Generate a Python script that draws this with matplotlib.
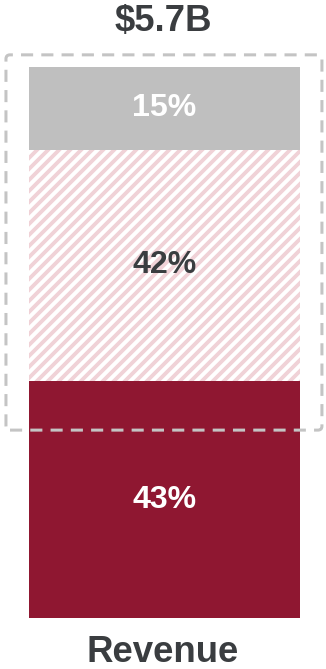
import numpy as np
import matplotlib.pyplot as plt
from matplotlib import rcParams
from matplotlib.patches import FancyBboxPatch

rcParams['font.family'] = 'Liberation Sans'
rcParams['hatch.linewidth'] = 2.1
rcParams['hatch.color'] = '#f0d2d7'

# revenue split, bottom to top
categories = ["Revenue"]
total_label = "$5.7B"
seg_values = [43, 42, 15]
seg_labels = ["43%", "42%", "15%"]
seg_colors = ['#8f1731', 'white', '#bfbfbf']
seg_hatch = [None, '////', None]
label_colors = ['white', '#3a3d40', 'white']

dpi = 132
fig = plt.figure(figsize=(326 / dpi, 669 / dpi), dpi=dpi)
ax = fig.add_axes([0, 0.0762, 1, 0.8237])

bottom = 0
for val, lab, col, h, tc in zip(seg_values, seg_labels, seg_colors, seg_hatch, label_colors):
    ax.bar(0, val, width=1.0, bottom=bottom, color=col, hatch=h,
           edgecolor='#f0d2d7' if h else col, linewidth=0)
    ax.text(0, bottom + val / 2, lab, ha='center', va='center',
            fontsize=17.5, fontweight='bold', color=tc)
    bottom += val

ax.set_xlim(-0.607, 0.596)
ax.set_ylim(0, 100)
ax.set_axis_off()

# dashed frame around the upper segments
box = FancyBboxPatch((-0.585, 34.1), 1.166, 68.1,
                     boxstyle='round,pad=0,rounding_size=0.015',
                     mutation_aspect=49.2, fill=False,
                     edgecolor='#c4c4c4', linewidth=1.65,
                     linestyle=(0, (4, 2.7)), zorder=5, clip_on=False)
ax.add_patch(box)

fig.text(0.5, 1 - 21 / 669, total_label, ha='center', va='center',
         fontsize=20, fontweight='bold', color='#3a3d40')
fig.text(0.5, 1 - 653 / 669, categories[0], ha='center', va='center',
         fontsize=20, fontweight='bold', color='#3a3d40')

plt.savefig("out.png", dpi=dpi)
